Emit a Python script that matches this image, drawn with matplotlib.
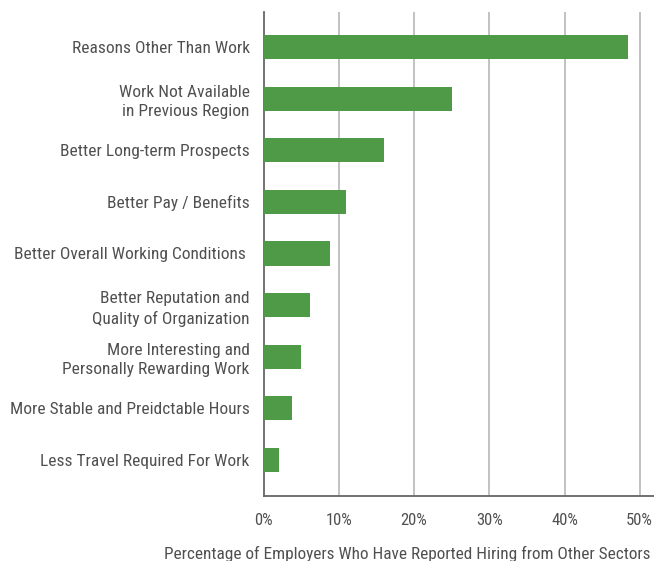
import matplotlib
matplotlib.use("Agg")
import matplotlib.pyplot as plt

plt.rcParams['font.family'] = ['Roboto Condensed', 'DejaVu Sans']

reasons = [
    "Reasons Other Than Work",
    "Work Not Available\nin Previous Region",
    "Better Long-term Prospects",
    "Better Pay / Benefits",
    "Better Overall Working Conditions ",
    "Better Reputation and\nQuality of Organization",
    "More Interesting and\nPersonally Rewarding Work",
    "More Stable and Preidctable Hours",
    "Less Travel Required For Work",
]
percent = [48.4, 25.0, 16.0, 10.9, 8.8, 6.1, 5.0, 3.7, 2.0]
ticks = [0, 10, 20, 30, 40, 50]
tick_labels = ["0%", "10%", "20%", "30%", "40%", "50%"]

green = "#4e9a46"
text_grey = "#505050"

fig = plt.figure(figsize=(6.54, 5.61), dpi=100)
ax = fig.add_axes([0.4032, 0.1159, 0.5968, 0.8627])

pos = list(range(len(reasons)))
ax.barh(pos, percent, height=0.47, color=green, zorder=3)

ax.set_ylim(len(reasons) - 0.3, -0.68)
ax.set_xlim(0, 51.9)

ax.set_yticks(pos)
ax.set_yticklabels(reasons, fontsize=12.5, color=text_grey, linespacing=1.35)
ax.set_xticks(ticks)
ax.set_xticklabels(tick_labels, fontsize=12, color=text_grey)
ax.tick_params(axis='both', length=0)
ax.tick_params(axis='y', pad=10)
ax.tick_params(axis='x', pad=12)

for t in ticks[1:]:
    ax.axvline(t, color="#b8b8b8", lw=1.2, zorder=1)

for side in ["top", "right"]:
    ax.spines[side].set_visible(False)
for side in ["left", "bottom"]:
    ax.spines[side].set_color("#666666")
    ax.spines[side].set_linewidth(1.3)

fig.text(0.995, -0.002, "Percentage of Employers Who Have Reported Hiring from Other Sectors",
         ha="right", va="bottom", fontsize=12.4, color=text_grey)

fig.savefig("out.png", dpi=100)
